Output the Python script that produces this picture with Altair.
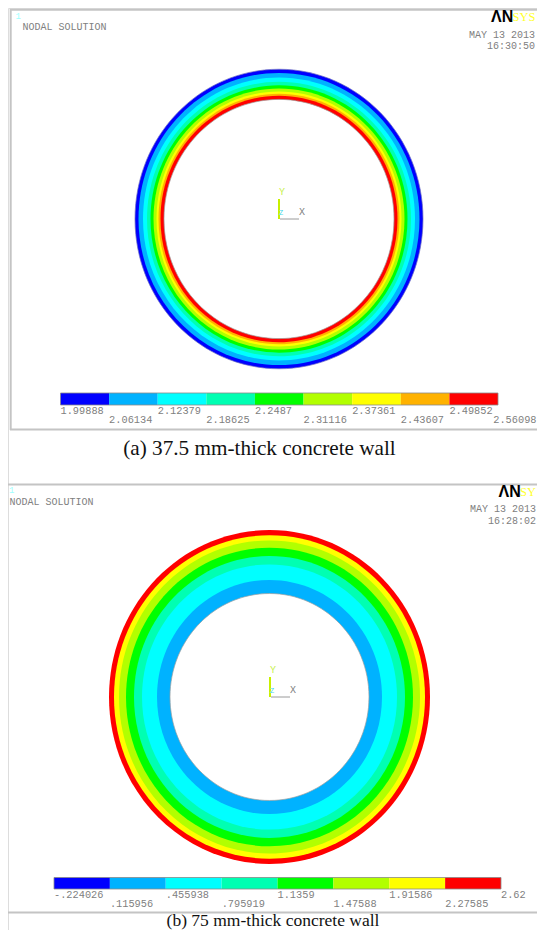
import altair as alt
import pandas as pd

# Contour colours (ANSYS palette) and legend labels
colors_a = ["#0000ff", "#00b2ff", "#00ffff", "#00ffb2", "#00ff00", "#b2ff00", "#ffff00", "#ffb200", "#ff0000"]
levels_a = ["1.99888", "2.06134", "2.12379", "2.18625", "2.2487", "2.31116", "2.37361", "2.43607", "2.49852"]
last_a = "2.56098"
colors_b = ["#0000ff", "#00b2ff", "#00ffff", "#00ffb2", "#00ff00", "#b2ff00", "#ffff00", "#ff0000"]
levels_b = ["-.224026", ".115956", ".455938", ".795919", "1.1359", "1.47588", "1.91586", "2.27585", "2.62"]

# Band boundaries across the wall: horizontal semi-axis, outer to inner
edges_a = [144, 140.5, 136, 132, 128.5, 125.5, 122.5, 120.5, 118.5, 115]
ring_colors_a = colors_a
edges_b = [160.5, 155.5, 150.5, 143.5, 135.5, 127.5, 112.5, 99.5]
ring_colors_b = ["#ff0000", "#ffff00", "#b2ff00", "#00ff00", "#00ffb2", "#00ffff", "#00b2ff"]

OX, OY = 8, 8
FULL_W, FULL_H = 529, 922
ELLIPSE = "M-1,0A1,1.04 0 1 1 1,0A1,1.04 0 1 1 -1,0Z"


def rings(edges, cols, cx, cy):
    df = pd.DataFrame({
        "i": list(range(len(edges))),
        "s": [(2 * e) ** 2 for e in edges],
        "c": cols + ["#ffffff"],
    })
    return alt.Chart(df).mark_point(filled=True, opacity=1, shape=ELLIPSE, strokeWidth=0).encode(
        x=alt.value(cx - OX), y=alt.value(cy - OY),
        size=alt.Size("s:Q", scale=None, legend=None),
        color=alt.Color("c:N", scale=None, legend=None),
        order=alt.Order("i:Q"),
    )


def rim(edge, cx, cy, color):
    df = pd.DataFrame({"s": [(2 * edge) ** 2]})
    return alt.Chart(df).mark_point(filled=False, opacity=0.7, shape=ELLIPSE, strokeWidth=1, color=color).encode(
        x=alt.value(cx - OX), y=alt.value(cy - OY),
        size=alt.Size("s:Q", scale=None, legend=None),
    )


def colorbar(cols, labels, x0, x1, y0, y1):
    n = len(cols)
    bars = pd.DataFrame({"i": list(range(n)), "i2": [k + 1 for k in range(n)], "c": cols})
    xs = alt.Scale(domain=[0, n], range=[x0 - OX, x1 - OX])
    band = alt.Chart(bars).mark_rect(strokeWidth=0).encode(
        x=alt.X("i:Q", scale=xs, axis=None), x2="i2:Q",
        y=alt.value(y0 - OY), y2=alt.value(y1 - OY),
        color=alt.Color("c:N", scale=None, legend=None),
    )
    frame = alt.Chart(pd.DataFrame({"a": [0], "b": [n]})).mark_rect(
        fill=None, stroke="#8a8a8a", strokeWidth=1, opacity=0.8
    ).encode(
        x=alt.X("a:Q", scale=xs, axis=None), x2="b:Q",
        y=alt.value(y0 - OY), y2=alt.value(y1 - OY),
    )
    lab = pd.DataFrame({"i": list(range(len(labels))), "t": labels})
    upper = alt.Chart(lab[lab.i % 2 == 0]).mark_text(
        font="Liberation Mono", fontSize=10.3, color="#808080", align="left", baseline="middle"
    ).encode(x=alt.X("i:Q", scale=xs, axis=None), y=alt.value(y1 + 5.5 - OY), text="t:N")
    lower = alt.Chart(lab[lab.i % 2 == 1]).mark_text(
        font="Liberation Mono", fontSize=10.3, color="#808080", align="left", baseline="middle"
    ).encode(x=alt.X("i:Q", scale=xs, axis=None), y=alt.value(y1 + 15 - OY), text="t:N")
    return [band, frame, upper, lower]


def label(t, x, y, font="Liberation Mono", size=10, color="#808080", align="left", weight="normal"):
    return alt.Chart(pd.DataFrame({"t": [t]})).mark_text(
        font=font, fontSize=size, color=color, align=align, baseline="middle", fontWeight=weight
    ).encode(x=alt.value(x - OX), y=alt.value(y - OY), text="t:N")


def line(x0, y0, x1, y1, color="#c4c4c4", width=2):
    return alt.Chart(pd.DataFrame({"k": [0]})).mark_rule(color=color, strokeWidth=width).encode(
        x=alt.value(x0 - OX), x2=alt.value(x1 - OX), y=alt.value(y0 - OY), y2=alt.value(y1 - OY)
    )


def triad(cx, cy):
    return [
        line(cx + 1, cy, cx + 20, cy, color="#9a9a9a", width=1),
        line(cx, cy - 20, cx, cy, color="#c8f000", width=2),
        label("Y", cx + 3, cy - 27, size=10, color="#c8f050", align="center"),
        label("Z", cx + 2, cy - 6, size=7, color="#40d8e8", align="center"),
        label("X", cx + 23, cy - 7, size=10, color="#808080", align="center"),
    ]


layers = [
    # panel (a)
    line(10, 9.7, 545, 9.7), line(10.7, 9, 10.7, 430), line(10, 429.5, 545, 429.5),
    label("1", 15.5, 16, size=9, color="#a0ffff"),
    label("NODAL SOLUTION", 22.5, 27),
    label("ΛN", 491, 17, font="Liberation Sans", size=16, color="#000000", weight="bold"),
    label("SYS", 512.5, 17, font="Liberation Serif", size=12.5, color="#ffff30"),
    label("MAY 13 2013", 535, 35, align="right"),
    label("16:30:50", 535, 46, align="right"),
    rings(edges_a, ring_colors_a, 279, 219),
    rim(edges_a[0], 279, 219, "#7070c0"),
    rim(edges_a[-1], 279, 219, "#a0a0a0"),
    *triad(279, 219),
    *colorbar(colors_a, levels_a, 60.5, 498, 393, 405),
    label(last_a, 536.5, 420, size=10.3, align="right"),
    label("(a) 37.5 mm-thick concrete wall", 259.5, 449, font="Liberation Serif", size=21.2, color="#111111", align="center"),
    # panel (b)
    line(0, 484.5, 545, 484.5), line(0, 912.5, 545, 912.5),
    label("1", 9, 490, size=9, color="#a0ffff"),
    label("NODAL SOLUTION", 9.5, 502),
    label("ΛN", 498.5, 492, font="Liberation Sans", size=16, color="#000000", weight="bold"),
    label("SY", 520, 492, font="Liberation Serif", size=12.5, color="#ffff30"),
    label("MAY 13 2013", 536, 509, align="right"),
    label("16:28:02", 536, 521, align="right"),
    rings(edges_b, ring_colors_b, 269.5, 697),
    rim(edges_b[-1], 269.5, 697, "#a0a0a0"),
    *triad(270, 697),
    *colorbar(colors_b, levels_b, 54, 501, 877.5, 889),
    label("(b) 75 mm-thick concrete wall", 273, 921, font="Liberation Serif", size=17.5, color="#111111", align="center"),
]

chart = alt.layer(*layers).resolve_scale(x="independent").properties(
    width=FULL_W, height=FULL_H, padding=0,
    autosize=alt.AutoSizeParams(type="none"),
).configure_view(stroke=None).configure(background="#ffffff")

chart.save("out.html", embed_options={"renderer": "svg", "actions": False})
